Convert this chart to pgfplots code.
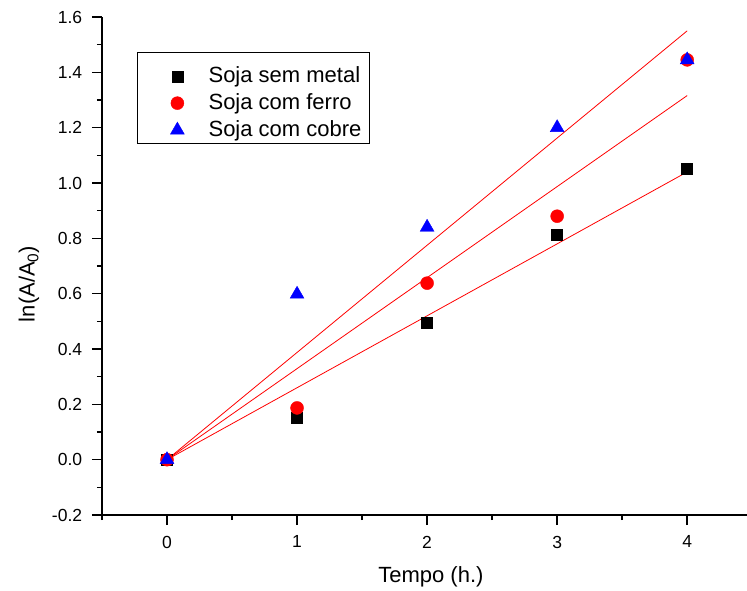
\documentclass[border=0pt]{standalone}
\usepackage{fontspec}
\setmainfont{Liberation Sans}
\usepackage{pgfplots}
\pgfplotsset{compat=1.18}
\pgfplotsset{mylegend/.style={legend image code/.code={\path (0pt,0pt) (44pt,0pt); \draw[##1] plot coordinates {(15pt,0pt)};}}}
\begin{document}
\fontsize{20}{24}\selectfont
\begin{tikzpicture}
\begin{axis}[name=ax, scale only axis, width=645pt, height=498pt,
  xmin=-0.5, xmax=4.46, ymin=-0.2, ymax=1.6,
  axis x line*=bottom, axis y line*=left,
  axis line style={line width=1.5pt, black},
  xtick={0,1,2,3,4},
  ytick={-0.2,0,0.2,0.4,0.6,0.8,1.0,1.2,1.4,1.6},
  minor xtick={-0.5,0.5,1.5,2.5,3.5},
  minor ytick={-0.1,0.1,0.3,0.5,0.7,0.9,1.1,1.3,1.5},
  tick align=outside,
  major tick length=10pt, minor tick length=5pt,
  every tick/.style={line width=1.5pt, black},
  yticklabel style={/pgf/number format/fixed, /pgf/number format/precision=1, /pgf/number format/fixed zerofill, xshift=-3pt},
  /pgf/number format/assume math mode=true,
  tick label style={font=\fontsize{17.5}{21}\selectfont},
  xticklabel style={yshift=-4pt},
  xlabel={Tempo (h.)}, ylabel={ln(A/A\textsubscript{0})},
  label style={font=\fontsize{22}{26}\selectfont},
  xlabel style={at={(axis description cs:0.51,-0.1245)}, anchor=center},
  ylabel style={at={(axis description cs:-0.1132,0.464)}, anchor=center},
  legend style={at={(0.093,0.9186)}, anchor=north west, draw=none, fill=none,
    font=\fontsize{22}{26}\selectfont, row sep=4pt, inner xsep=0pt, inner ysep=7pt},
  legend cell align=left,
]
\addplot[only marks, mylegend, mark=square*, mark size=5.5pt, mark options={fill=black, draw=black}] coordinates {
  (0,0) (1,0.151) (2,0.494) (3,0.812) (4,1.050)};
\addlegendentry{Soja sem metal}
\addplot[only marks, mylegend, mark=*, mark size=6.5pt, mark options={fill=red, draw=red}] coordinates {
  (0,0) (1,0.187) (2,0.638) (3,0.880) (4,1.445)};
\addlegendentry{Soja com ferro}
\addplot[only marks, mylegend, mark=triangle*, mark size=8pt, mark options={fill=blue, draw=blue}] coordinates {
  (0,0) (1,0.598) (2,0.840) (3,1.200) (4,1.445)};
\addlegendentry{Soja com cobre}
\addplot[red, line width=0.8pt, no marks, forget plot] coordinates {(0,0) (4,1.040)};
\addplot[red, line width=0.8pt, no marks, forget plot] coordinates {(0,0) (4,1.316)};
\addplot[red, line width=0.8pt, no marks, forget plot] coordinates {(0,0) (4,1.550)};
\draw[line width=1pt, black] (rel axis cs:0.0558,0.9283) rectangle (rel axis cs:0.4155,0.7450);
\end{axis}
\pgfresetboundingbox
\path[use as bounding box] ([shift={(-102pt,-76pt)}]ax.south west) rectangle ([shift={(0pt,17pt)}]ax.north east);
\end{tikzpicture}
\end{document}
